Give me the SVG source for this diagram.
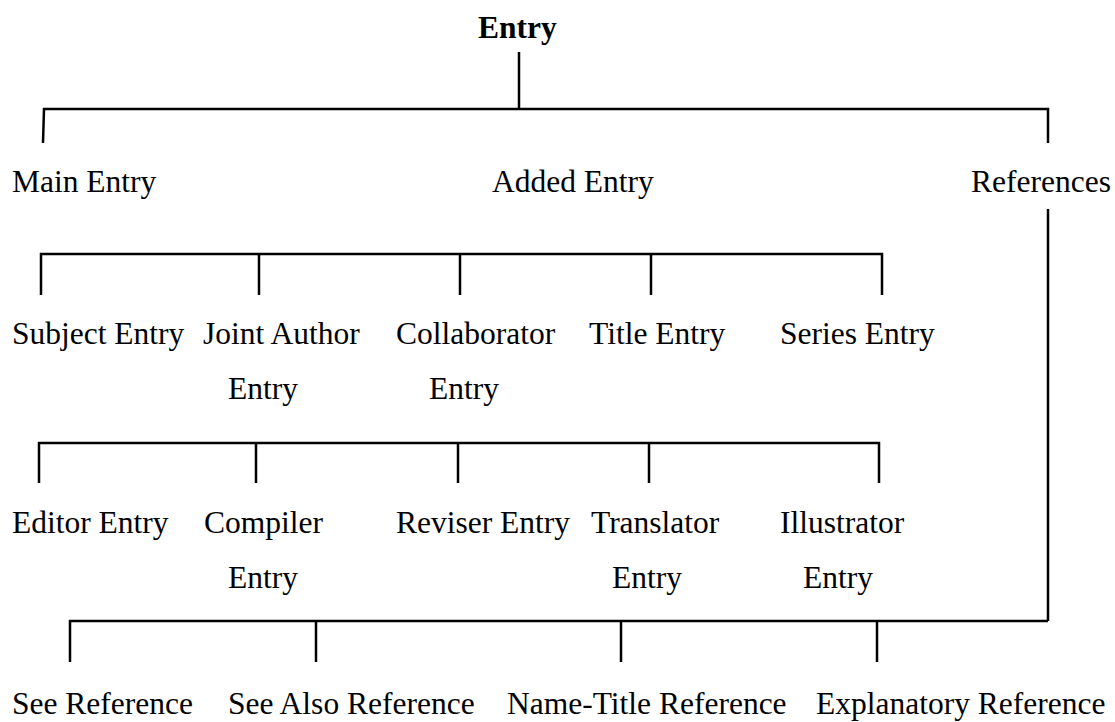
<svg xmlns="http://www.w3.org/2000/svg" width="1115" height="722" viewBox="0 0 1115 722">
<style>
text{font-family:"Liberation Serif","Times New Roman",serif;font-size:31.5px;fill:#000}
.b{font-weight:bold}
.c line,.c polyline{stroke:#000;stroke-width:2.5;fill:none}
</style>
<rect width="1115" height="722" fill="#fff"/>
<g class="c" id="connectors">
<line x1="519" y1="52" x2="519" y2="109"/>
<polyline points="43,143 44,109 1048,109 1048,143"/>
<line x1="1048" y1="209" x2="1048" y2="621"/>
<polyline points="41,295 41,254 882,254 882,295"/>
<line x1="259" y1="254" x2="259" y2="295"/>
<line x1="460" y1="254" x2="460" y2="295"/>
<line x1="651" y1="254" x2="651" y2="295"/>
<polyline points="39,483 39,443 879,443 879,483"/>
<line x1="256" y1="443" x2="256" y2="483"/>
<line x1="458" y1="443" x2="458" y2="483"/>
<line x1="649" y1="443" x2="649" y2="483"/>
<polyline points="70,662 70,621 1048,621"/>
<line x1="316" y1="621" x2="316" y2="662"/>
<line x1="621" y1="621" x2="621" y2="662"/>
<line x1="877" y1="621" x2="877" y2="662"/>
</g>
<g id="entry"><text class="b" x="478" y="38">Entry</text></g>
<g id="main-entry"><text x="12" y="192">Main Entry</text></g>
<g id="added-entry"><text x="492" y="192">Added Entry</text></g>
<g id="references"><text x="971" y="192">References</text></g>
<g id="subject-entry"><text x="12" y="344">Subject Entry</text></g>
<g id="joint-author-entry"><text x="203" y="344">Joint Author</text><text x="228" y="399">Entry</text></g>
<g id="collaborator-entry"><text x="396" y="344">Collaborator</text><text x="429" y="399">Entry</text></g>
<g id="title-entry"><text x="589" y="344">Title Entry</text></g>
<g id="series-entry"><text x="780" y="344">Series Entry</text></g>
<g id="editor-entry"><text x="12" y="533">Editor Entry</text></g>
<g id="compiler-entry"><text x="204" y="533">Compiler</text><text x="228" y="588">Entry</text></g>
<g id="reviser-entry"><text x="396" y="533">Reviser Entry</text></g>
<g id="translator-entry"><text x="591" y="533">Translator</text><text x="612" y="588">Entry</text></g>
<g id="illustrator-entry"><text x="780" y="533">Illustrator</text><text x="803" y="588">Entry</text></g>
<g id="see-reference"><text x="12" y="714">See Reference</text></g>
<g id="see-also-reference"><text x="228" y="714">See Also Reference</text></g>
<g id="name-title-reference"><text x="507" y="714">Name-Title Reference</text></g>
<g id="explanatory-reference"><text x="816" y="714">Explanatory Reference</text></g>
</svg>
